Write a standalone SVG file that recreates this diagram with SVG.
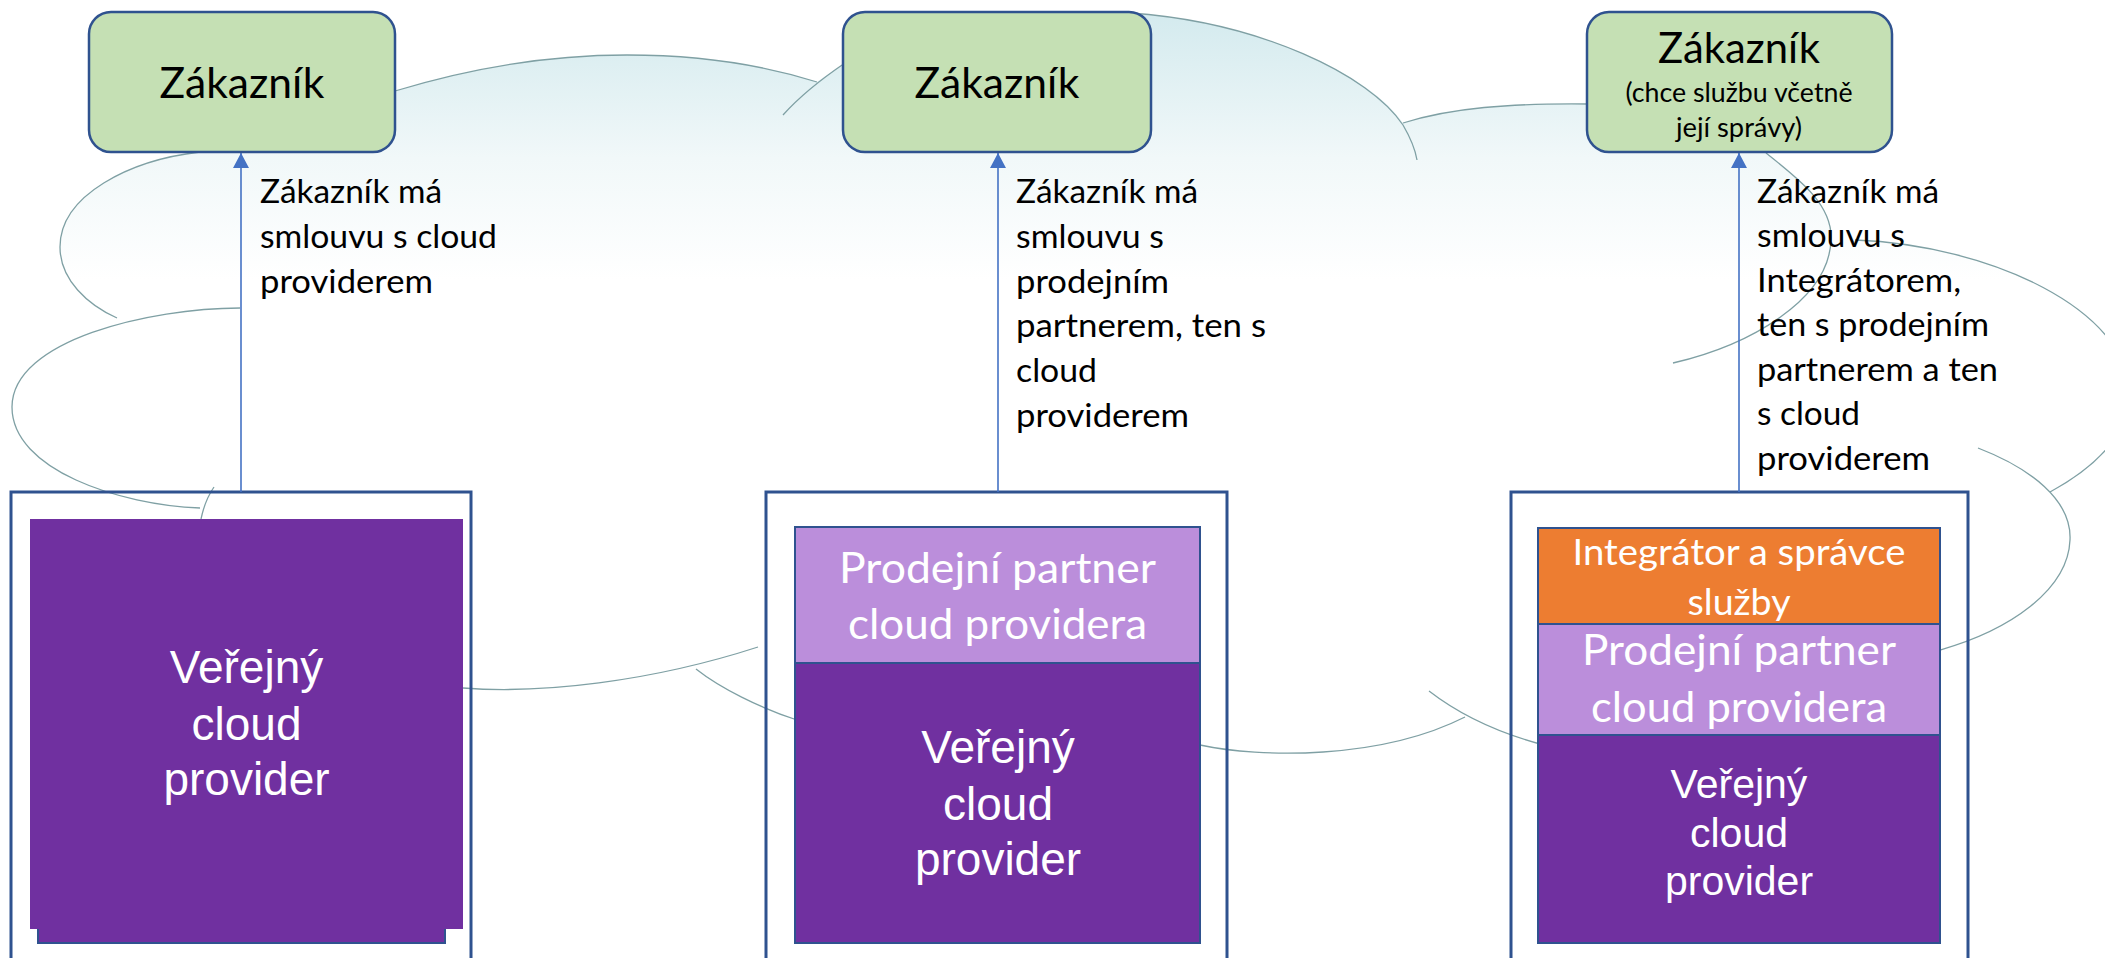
<svg xmlns="http://www.w3.org/2000/svg" width="2105" height="958" viewBox="0 0 2105 958">
<defs>
  <linearGradient id="cloudGrad" gradientUnits="userSpaceOnUse" x1="0" y1="10" x2="0" y2="280">
    <stop offset="0" stop-color="#D3EAEE"/>
    <stop offset="0.55" stop-color="#F1F8F9"/>
    <stop offset="1" stop-color="#FFFFFF"/>
  </linearGradient>
  <marker id="arrowHead" markerUnits="userSpaceOnUse" markerWidth="15" markerHeight="16" viewBox="0 0 15 16" refX="15" refY="8" orient="auto">
    <path d="M0,0 L15,8 L0,16 Z" fill="#4472C4"/>
  </marker>
  <style>
    .cloudline { fill: none; stroke: #7FA0A4; stroke-width: 1.3; }
    .cust { fill: #C5E0B4; stroke: #2F528F; stroke-width: 2.5; }
    .frame { fill: none; stroke: #2F528F; stroke-width: 3; }
    .purple { fill: #7030A0; }
    .edge { stroke: #2F528F; stroke-width: 2; }
    .partner { fill: #BB8EDB; }
    .orange { fill: #ED7D31; }
    .conn { stroke: #4472C4; stroke-width: 1.6; fill: none; }
    .cal { font-family: Lato, "Noto Sans", sans-serif; }
    .ari { font-family: "Liberation Sans", Arial, sans-serif; }
    .dark { fill: #000000; }
    .white { fill: #FFFFFF; }
    .mid { text-anchor: middle; }
  </style>
</defs>

<rect x="0" y="0" width="2105" height="958" fill="#FFFFFF"/>

<g id="cloud">
  <path fill="url(#cloudGrad)" stroke="none" d="M200,152 C130,160 60,195 60,247 C60,280 88,305 117,318 C70,335 12,360 12,407 C12,470 120,505 200,508 L463,560 L463,688 C540,694 650,682 696,669 C720,688 760,708 797,720 L1200,745 C1260,758 1380,760 1465,717 C1490,730 1515,738 1540,744 L1940,650 C2010,630 2068,590 2070,540 C2071,515 2062,500 2050,492 C2100,465 2130,430 2130,395 C2130,310 1990,245 1855,240 L1831,240 C1833,205 1800,180 1766,153 L1700,120 L1590,104 C1510,103 1450,108 1403,123 C1370,75 1260,22 1130,13 L850,40 L843,65 C835,70 825,76 817,82 C760,64 700,55 627,55 C560,55 480,65 395,91 L300,140 Z"/>
  <path class="cloudline" d="M200,152 C130,160 60,195 60,247 C60,280 88,305 117,318"/>
  <path class="cloudline" d="M240,308 C150,308 12,340 12,407 C12,470 120,505 200,508"/>
  <path class="cloudline" d="M214,487 Q205,500 201,519"/>
  <path class="cloudline" d="M395,91 C480,65 560,55 627,55 C700,55 760,64 817,82"/>
  <path class="cloudline" d="M783,115 C800,96 820,80 845,63"/>
  <path class="cloudline" d="M1130,13 C1260,22 1370,75 1403,125 C1410,137 1415,148 1417,160"/>
  <path class="cloudline" d="M1403,123 C1450,108 1510,103 1590,104"/>
  <path class="cloudline" d="M1766,153 C1800,180 1833,205 1831,240 C1829,300 1750,345 1673,363"/>
  <path class="cloudline" d="M1855,240 C1990,245 2130,310 2130,395 C2130,430 2100,465 2050,492"/>
  <path class="cloudline" d="M1978,448 C2030,468 2072,500 2070,540 C2068,590 2010,630 1940,650"/>
  <path class="cloudline" d="M463,688 C540,694 650,682 758,647"/>
  <path class="cloudline" d="M696,669 C720,688 760,708 797,720"/>
  <path class="cloudline" d="M1200,745 C1260,758 1380,760 1465,717"/>
  <path class="cloudline" d="M1429,691 C1460,715 1500,733 1540,744"/>
</g>

<g id="provider-stack-1">
  <rect class="frame" x="11" y="492" width="460" height="490"/>
  <rect class="purple edge" x="38" y="880" width="407" height="63"/>
  <rect class="purple" x="30" y="519" width="433" height="410"/>
  <text class="ari white mid" font-size="46" x="246.5" y="683">Veřejný</text>
  <text class="ari white mid" font-size="46" x="246.5" y="740">cloud</text>
  <text class="ari white mid" font-size="46" x="246.5" y="795">provider</text>
</g>

<g id="provider-stack-2">
  <rect class="frame" x="766" y="492" width="461" height="490"/>
  <rect class="partner edge" x="795" y="527" width="405" height="136"/>
  <rect class="purple edge" x="795" y="663" width="405" height="280"/>
  <text class="cal white mid" font-size="42" x="997.5" y="583" textLength="317" lengthAdjust="spacingAndGlyphs">Prodejní partner</text>
  <text class="cal white mid" font-size="42" x="997.5" y="639" textLength="299" lengthAdjust="spacingAndGlyphs">cloud providera</text>
  <text class="ari white mid" font-size="46" x="998" y="763">Veřejný</text>
  <text class="ari white mid" font-size="46" x="998" y="820">cloud</text>
  <text class="ari white mid" font-size="46" x="998" y="875">provider</text>
</g>

<g id="provider-stack-3">
  <rect class="frame" x="1511" y="492" width="457" height="490"/>
  <rect class="orange edge" x="1538" y="528" width="402" height="96"/>
  <rect class="partner edge" x="1538" y="624" width="402" height="111"/>
  <rect class="purple edge" x="1538" y="735" width="402" height="208"/>
  <text class="cal white mid" font-size="37" x="1739" y="565" textLength="333" lengthAdjust="spacingAndGlyphs">Integrátor a správce</text>
  <text class="cal white mid" font-size="37" x="1739" y="615" textLength="103" lengthAdjust="spacingAndGlyphs">služby</text>
  <text class="cal white mid" font-size="42" x="1739" y="665" textLength="314" lengthAdjust="spacingAndGlyphs">Prodejní partner</text>
  <text class="cal white mid" font-size="42" x="1739" y="722" textLength="296" lengthAdjust="spacingAndGlyphs">cloud providera</text>
  <text class="ari white mid" font-size="41" x="1739" y="798">Veřejný</text>
  <text class="ari white mid" font-size="41" x="1739" y="847">cloud</text>
  <text class="ari white mid" font-size="41" x="1739" y="895">provider</text>
</g>

<g id="connectors">
  <line class="conn" x1="241" y1="492" x2="241" y2="153" marker-end="url(#arrowHead)"/>
  <line class="conn" x1="998" y1="492" x2="998" y2="153" marker-end="url(#arrowHead)"/>
  <line class="conn" x1="1739" y1="492" x2="1739" y2="153" marker-end="url(#arrowHead)"/>
  <g class="cal dark" font-size="33">
    <text x="260" y="203" textLength="182" lengthAdjust="spacingAndGlyphs">Zákazník má</text>
    <text x="260" y="248" textLength="237" lengthAdjust="spacingAndGlyphs">smlouvu s cloud</text>
    <text x="260" y="293" textLength="173" lengthAdjust="spacingAndGlyphs">providerem</text>

    <text x="1016" y="203" textLength="182" lengthAdjust="spacingAndGlyphs">Zákazník má</text>
    <text x="1016" y="248" textLength="148" lengthAdjust="spacingAndGlyphs">smlouvu s</text>
    <text x="1016" y="293" textLength="153" lengthAdjust="spacingAndGlyphs">prodejním</text>
    <text x="1016" y="337" textLength="250" lengthAdjust="spacingAndGlyphs">partnerem, ten s</text>
    <text x="1016" y="382" textLength="81" lengthAdjust="spacingAndGlyphs">cloud</text>
    <text x="1016" y="427" textLength="173" lengthAdjust="spacingAndGlyphs">providerem</text>

    <text x="1757" y="203" textLength="182" lengthAdjust="spacingAndGlyphs">Zákazník má</text>
    <text x="1757" y="247" textLength="148" lengthAdjust="spacingAndGlyphs">smlouvu s</text>
    <text x="1757" y="292" textLength="204" lengthAdjust="spacingAndGlyphs">Integrátorem,</text>
    <text x="1757" y="336" textLength="232" lengthAdjust="spacingAndGlyphs">ten s prodejním</text>
    <text x="1757" y="381" textLength="241" lengthAdjust="spacingAndGlyphs">partnerem a ten</text>
    <text x="1757" y="425" textLength="103" lengthAdjust="spacingAndGlyphs">s cloud</text>
    <text x="1757" y="470" textLength="173" lengthAdjust="spacingAndGlyphs">providerem</text>
  </g>
</g>

<g id="customer-1">
  <rect class="cust" x="89" y="12" width="306" height="140" rx="22" ry="22"/>
  <text class="cal dark mid" font-size="42" x="242" y="98" textLength="165" lengthAdjust="spacingAndGlyphs">Zákazník</text>
</g>

<g id="customer-2">
  <rect class="cust" x="843" y="12" width="308" height="140" rx="22" ry="22"/>
  <text class="cal dark mid" font-size="42" x="997" y="98" textLength="165" lengthAdjust="spacingAndGlyphs">Zákazník</text>
</g>

<g id="customer-3">
  <rect class="cust" x="1587" y="12" width="305" height="140" rx="22" ry="22"/>
  <text class="cal dark mid" font-size="42" x="1739" y="63" textLength="162" lengthAdjust="spacingAndGlyphs">Zákazník</text>
  <text class="cal dark mid" font-size="26" x="1739" y="102" textLength="227" lengthAdjust="spacingAndGlyphs">(chce službu včetně</text>
  <text class="cal dark mid" font-size="26" x="1739" y="137" textLength="126" lengthAdjust="spacingAndGlyphs">její správy)</text>
</g>
</svg>
